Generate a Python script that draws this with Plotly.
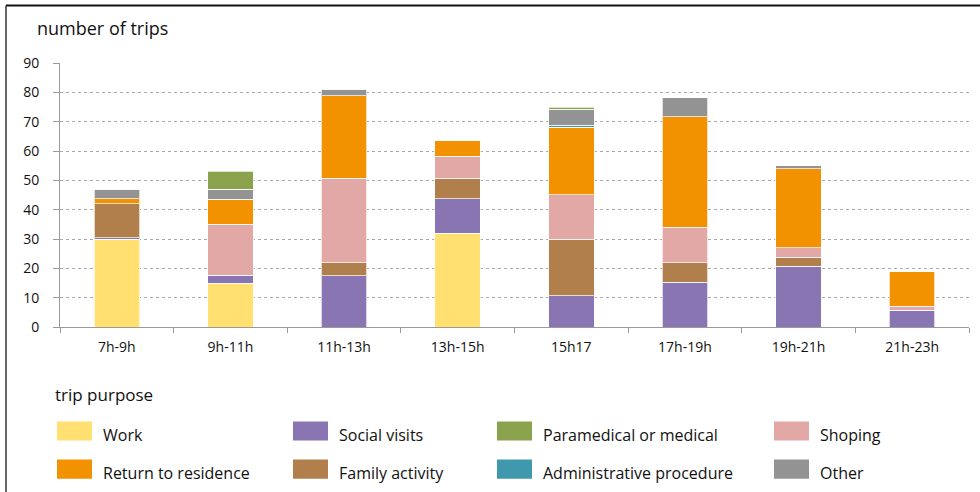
import plotly.graph_objects as go

categories = ["7h-9h", "9h-11h", "11h-13h", "13h-15h", "15h17", "17h-19h", "19h-21h", "21h-23h"]

# stack order bottom -> top
work = [30.0, 15.0, 0, 31.9, 0, 0, 0, 0]
social_visits = [0.5, 2.6, 17.4, 11.8, 10.7, 15.2, 20.7, 5.7]
family_activity = [11.5, 0, 4.5, 7.0, 19.3, 6.7, 3.1, 0]
shoping = [0, 17.5, 28.8, 7.5, 15.1, 12.1, 3.2, 1.4]
return_residence = [1.7, 8.5, 28.1, 5.5, 23.0, 37.7, 26.9, 11.8]
administrative = [0, 0, 0, 0, 0.7, 0, 0, 0]
other = [3.3, 3.4, 2.3, 0, 5.5, 6.4, 1.1, 0]
paramedical = [0, 6.1, 0, 0, 0.7, 0, 0, 0]

series_names = ["Work", "Social visits", "Family activity", "Shoping", "Return to residence",
                "Administrative procedure", "Other", "Paramedical or medical"]
series_values = [work, social_visits, family_activity, shoping, return_residence,
                 administrative, other, paramedical]
colors = {
    "Work": "#FFE071",
    "Social visits": "#8875B1",
    "Paramedical or medical": "#8BA34D",
    "Shoping": "#E2A8A6",
    "Return to residence": "#F29200",
    "Family activity": "#B07F4B",
    "Administrative procedure": "#3F98AB",
    "Other": "#939393",
}

# legend layout (rows, columns)
legend_rows = [
    ["Work", "Social visits", "Paramedical or medical", "Shoping"],
    ["Return to residence", "Family activity", "Administrative procedure", "Other"],
]

y_ticks = [0, 10, 20, 30, 40, 50, 60, 70, 80, 90]

FONT = "Open Sans"

fig = go.Figure()
for name, vals in zip(series_names, series_values):
    fig.add_trace(go.Bar(
        x=categories, y=vals, name=name,
        marker=dict(color=colors[name], line=dict(color="rgba(255,255,255,0.7)", width=1)),
        showlegend=False,
    ))

# plot area in pixels
L, R, T, B = 60, 969, 63.3, 326.7
W, H = 980, 492

def px(x):
    return (x - L) / (R - L)

def py(y):
    return (B - y) / (B - T)

shapes = []
annotations = []

# frame lines
shapes.append(dict(type="line", xref="paper", yref="paper", x0=px(6), x1=px(980), y0=py(6), y1=py(6),
                   line=dict(color="#111111", width=2)))
shapes.append(dict(type="line", xref="paper", yref="paper", x0=px(6), x1=px(6), y0=py(6), y1=py(492),
                   line=dict(color="#333333", width=1.5)))

annotations.append(dict(text="number of trips", xref="paper", yref="paper", x=px(35), y=py(28),
                        xanchor="left", yanchor="middle", showarrow=False,
                        font=dict(family=FONT, size=18, color="#111111")))
annotations.append(dict(text="trip purpose", xref="paper", yref="paper", x=px(53), y=py(394),
                        xanchor="left", yanchor="middle", showarrow=False,
                        font=dict(family=FONT, size=17, color="#111111")))

col_x = [57, 293, 497, 774]
row_y = [431, 469]
for r, row in enumerate(legend_rows):
    for c, name in enumerate(row):
        x0 = col_x[c]
        yc = row_y[r]
        shapes.append(dict(type="rect", xref="paper", yref="paper",
                           x0=px(x0), x1=px(x0 + 35), y0=py(yc - 10), y1=py(yc + 9),
                           fillcolor=colors[name], line=dict(width=0)))
        annotations.append(dict(text=name, xref="paper", yref="paper", x=px(x0 + 44), y=py(yc + 3),
                                xanchor="left", yanchor="middle", showarrow=False,
                                font=dict(family=FONT, size=16, color="#111111")))

fig.update_layout(
    barmode="stack",
    bargap=0.6,
    width=W, height=H,
    margin=dict(l=L, r=W - R, t=T, b=H - B, pad=0),
    paper_bgcolor="white",
    plot_bgcolor="white",
    font=dict(family=FONT, size=14, color="#111111"),
    shapes=shapes,
    annotations=annotations,
    xaxis=dict(
        type="category", showgrid=False, showline=True, linecolor="#9a9a9a", linewidth=1,
        ticks="outside", tickson="boundaries", ticklen=5, tickcolor="#9a9a9a",
        ticklabelstandoff=7,
        tickfont=dict(family=FONT, size=14, color="#111111"),
    ),
    yaxis=dict(
        range=[0, 90], tickvals=y_ticks, showline=True, linecolor="#9a9a9a", linewidth=1,
        ticks="outside", ticklen=6, tickcolor="#9a9a9a", ticklabelstandoff=11,
        showgrid=True, gridcolor="#aaaaaa", griddash="dot", gridwidth=1,
        zeroline=False,
        tickfont=dict(family=FONT, size=14, color="#111111"),
    ),
)

fig.write_html("out.html", config={"displayModeBar": False},
               post_script="document.body.style.margin='0px';")
